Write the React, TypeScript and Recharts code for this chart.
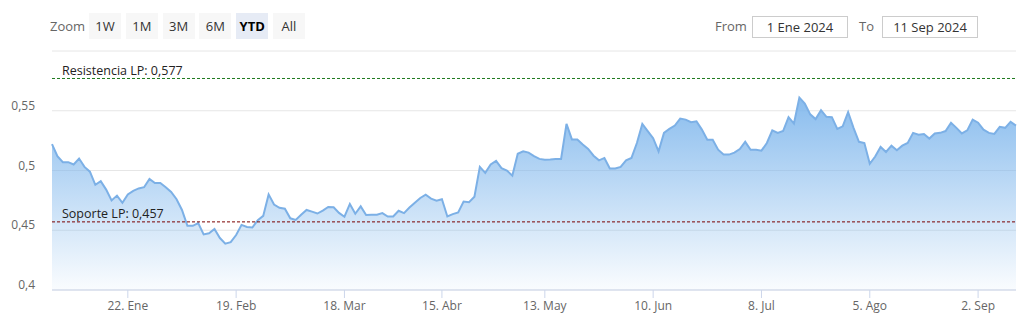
import React from "react";
import {
  AreaChart,
  Area,
  XAxis,
  YAxis,
  CartesianGrid,
  ReferenceLine,
} from "recharts";

// Sesiones bursátiles (BME): días laborables sin festivos de mercado
const FIRST_DAY = "2024-01-02";
const LAST_DAY = "2024-09-11";
const HOLIDAYS = ["2024-01-01", "2024-03-29", "2024-04-01", "2024-05-01"];

// Cierre diario
const PRICES = [
  0.522, 0.512, 0.507, 0.507, 0.505, 0.51, 0.503, 0.499, 0.488, 0.491,
  0.484, 0.475, 0.479, 0.473, 0.48, 0.483, 0.485, 0.486, 0.493, 0.4895,
  0.4895, 0.486, 0.482, 0.476, 0.467, 0.4537, 0.4537, 0.456, 0.4465, 0.4475,
  0.451, 0.4435, 0.4388, 0.44, 0.446, 0.4545, 0.4528, 0.4523, 0.4585, 0.462,
  0.48, 0.4715, 0.4688, 0.468, 0.46, 0.4587, 0.463, 0.467, 0.4656, 0.464,
  0.4665, 0.4695, 0.4692, 0.4645, 0.4613, 0.472, 0.4638, 0.47, 0.4627, 0.463,
  0.463, 0.4643, 0.4615, 0.4615, 0.4663, 0.4643, 0.469, 0.473, 0.477, 0.4797,
  0.4765, 0.4747, 0.476, 0.4615, 0.4635, 0.465, 0.474, 0.4735, 0.478, 0.503,
  0.498, 0.505, 0.508, 0.502, 0.5, 0.4957, 0.514, 0.516, 0.515, 0.512,
  0.5097, 0.509, 0.5093, 0.5097, 0.5097, 0.539, 0.526, 0.526, 0.5217, 0.518,
  0.5124, 0.5085, 0.5105, 0.5017, 0.5017, 0.503, 0.5085, 0.5105, 0.523, 0.539,
  0.533, 0.527, 0.516, 0.5315, 0.5348, 0.5376, 0.5435, 0.5426, 0.5404, 0.5412,
  0.5342, 0.5258, 0.5258, 0.5174, 0.5133, 0.5133, 0.515, 0.518, 0.524, 0.5174,
  0.5174, 0.5166, 0.523, 0.5336, 0.5315, 0.533, 0.5446, 0.5393, 0.561, 0.556,
  0.547, 0.543, 0.5504, 0.5449, 0.5446, 0.5348, 0.537, 0.5488, 0.5357, 0.524,
  0.523, 0.5056, 0.5117, 0.5197, 0.5155, 0.5208, 0.5169, 0.5208, 0.523, 0.5315,
  0.53, 0.5306, 0.5267, 0.531, 0.5315, 0.533, 0.54, 0.5357, 0.531, 0.5336,
  0.5426, 0.54, 0.5342, 0.5315, 0.5306, 0.5365, 0.5357, 0.5407, 0.5376,
];

const TICK_DATES = [
  "2024-01-22", "2024-02-19", "2024-03-18", "2024-04-15", "2024-05-13",
  "2024-06-10", "2024-07-08", "2024-08-05", "2024-09-02",
];
const TICK_LABELS = [
  "22. Ene", "19. Feb", "18. Mar", "15. Abr", "13. May",
  "10. Jun", "8. Jul", "5. Ago", "2. Sep",
];

const Y_TICKS = [0.4, 0.45, 0.5, 0.55, 0.6];

const RESISTANCE = 0.577;
const SUPPORT = 0.457;

const ZOOM_BUTTONS = ["1W", "1M", "3M", "6M", "YTD", "All"];
const SELECTED_BUTTON = "YTD";
const FROM_LABEL = "1 Ene 2024";
const TO_LABEL = "11 Sep 2024";

const FONT = '"Open Sans", "DejaVu Sans", sans-serif';

function tradingDays(from: string, to: string): string[] {
  const out: string[] = [];
  const d = new Date(from + "T00:00:00Z");
  const end = new Date(to + "T00:00:00Z");
  while (d <= end) {
    const iso = d.toISOString().slice(0, 10);
    const wd = d.getUTCDay();
    if (wd !== 0 && wd !== 6 && !HOLIDAYS.includes(iso)) out.push(iso);
    d.setUTCDate(d.getUTCDate() + 1);
  }
  return out;
}

const DAYS = tradingDays(FIRST_DAY, LAST_DAY);
const data = DAYS.slice(0, PRICES.length).map((date, i) => ({
  date,
  value: PRICES[i],
}));

const fmtNum = (v: number) => String(v).replace(".", ",");

const YTick = ({ y, payload }: any) => {
  if (payload.value === 0.6) return null;
  return (
    <text
      x={35}
      y={y - 1}
      textAnchor="end"
      fill="#666"
      fontSize={12}
      fontFamily={FONT}
    >
      {fmtNum(payload.value)}
    </text>
  );
};

const lineLabel = (text: string, dy: number) => (props: any) => {
  const vb = props.viewBox || {};
  return (
    <text
      x={(vb.x ?? 52) + 10}
      y={(vb.y ?? 0) - dy}
      fill="#222"
      fontSize={12.5}
      fontFamily={FONT}
    >
      {text}
    </text>
  );
};

const btnBase: React.CSSProperties = {
  position: "absolute",
  top: 13,
  height: 26,
  width: 32,
  display: "flex",
  alignItems: "center",
  justifyContent: "center",
  fontSize: 13,
  color: "#333",
  background: "#f7f7f7",
};

const inputBox: React.CSSProperties = {
  position: "absolute",
  top: 16,
  height: 20,
  width: 94,
  border: "1px solid #cccccc",
  display: "flex",
  alignItems: "center",
  justifyContent: "center",
  fontSize: 13,
  color: "#333",
  background: "#fff",
};

export default function App() {
  return (
    <div
      style={{
        position: "absolute",
        left: 0,
        top: 0,
        width: 1024,
        height: 325,
        background: "#fff",
        fontFamily: FONT,
        overflow: "hidden",
      }}
    >
      <div
        style={{
          position: "absolute",
          left: 50,
          top: 13,
          height: 26,
          display: "flex",
          alignItems: "center",
          fontSize: 13,
          color: "#666",
        }}
      >
        Zoom
      </div>
      {ZOOM_BUTTONS.map((b, i) => (
        <div
          key={b}
          style={{
            ...btnBase,
            left: 89 + i * 36.8,
            background: b === SELECTED_BUTTON ? "#e6ebf5" : "#f7f7f7",
            fontWeight: b === SELECTED_BUTTON ? 700 : 400,
            color: b === SELECTED_BUTTON ? "#000" : "#333",
          }}
        >
          {b}
        </div>
      ))}

      <div
        style={{
          position: "absolute",
          left: 715,
          top: 13,
          height: 26,
          display: "flex",
          alignItems: "center",
          fontSize: 13,
          color: "#666",
        }}
      >
        From
      </div>
      <div style={{ ...inputBox, left: 752 }}>{FROM_LABEL}</div>
      <div
        style={{
          position: "absolute",
          left: 859,
          top: 13,
          height: 26,
          display: "flex",
          alignItems: "center",
          fontSize: 13,
          color: "#666",
        }}
      >
        To
      </div>
      <div style={{ ...inputBox, left: 882 }}>{TO_LABEL}</div>

      <div style={{ position: "absolute", left: 0, top: 0 }}>
        <AreaChart
          width={1024}
          height={325}
          data={data}
          margin={{ top: 51, right: 8, bottom: 5, left: 0 }}
        >
          <defs>
            <linearGradient id="areaFill" x1="0" y1="0" x2="0" y2="1">
              <stop offset="0%" stopColor="#7cb5ec" stopOpacity={0.9} />
              <stop offset="100%" stopColor="#7cb5ec" stopOpacity={0.04} />
            </linearGradient>
          </defs>
          <CartesianGrid vertical={false} stroke="#e6e6e6" />
          <XAxis
            dataKey="date"
            ticks={TICK_DATES}
            tickFormatter={(d: string) => TICK_LABELS[TICK_DATES.indexOf(d)] ?? ""}
            height={30}
            tickSize={8}
            tickMargin={3}
            stroke="#ccd6eb"
            tick={{ fill: "#666", fontSize: 12, fontFamily: FONT }}
            interval={0}
          />
          <YAxis
            domain={[0.4, 0.6]}
            ticks={Y_TICKS}
            width={52}
            axisLine={false}
            tickLine={false}
            tick={<YTick />}
          />
          <Area
            type="linear"
            dataKey="value"
            stroke="#7cb0e6"
            strokeWidth={2}
            fill="url(#areaFill)"
            fillOpacity={1}
            dot={false}
            activeDot={false}
            isAnimationActive={false}
          />
          <ReferenceLine
            y={RESISTANCE}
            stroke="#1f7a1f"
            strokeDasharray="3 2"
            label={lineLabel("Resistencia LP: " + fmtNum(RESISTANCE), 3)}
          />
          <ReferenceLine
            y={SUPPORT}
            stroke="#7a0000"
            strokeDasharray="3 2"
            label={lineLabel("Soporte LP: " + fmtNum(SUPPORT), 4)}
          />
        </AreaChart>
      </div>
    </div>
  );
}
